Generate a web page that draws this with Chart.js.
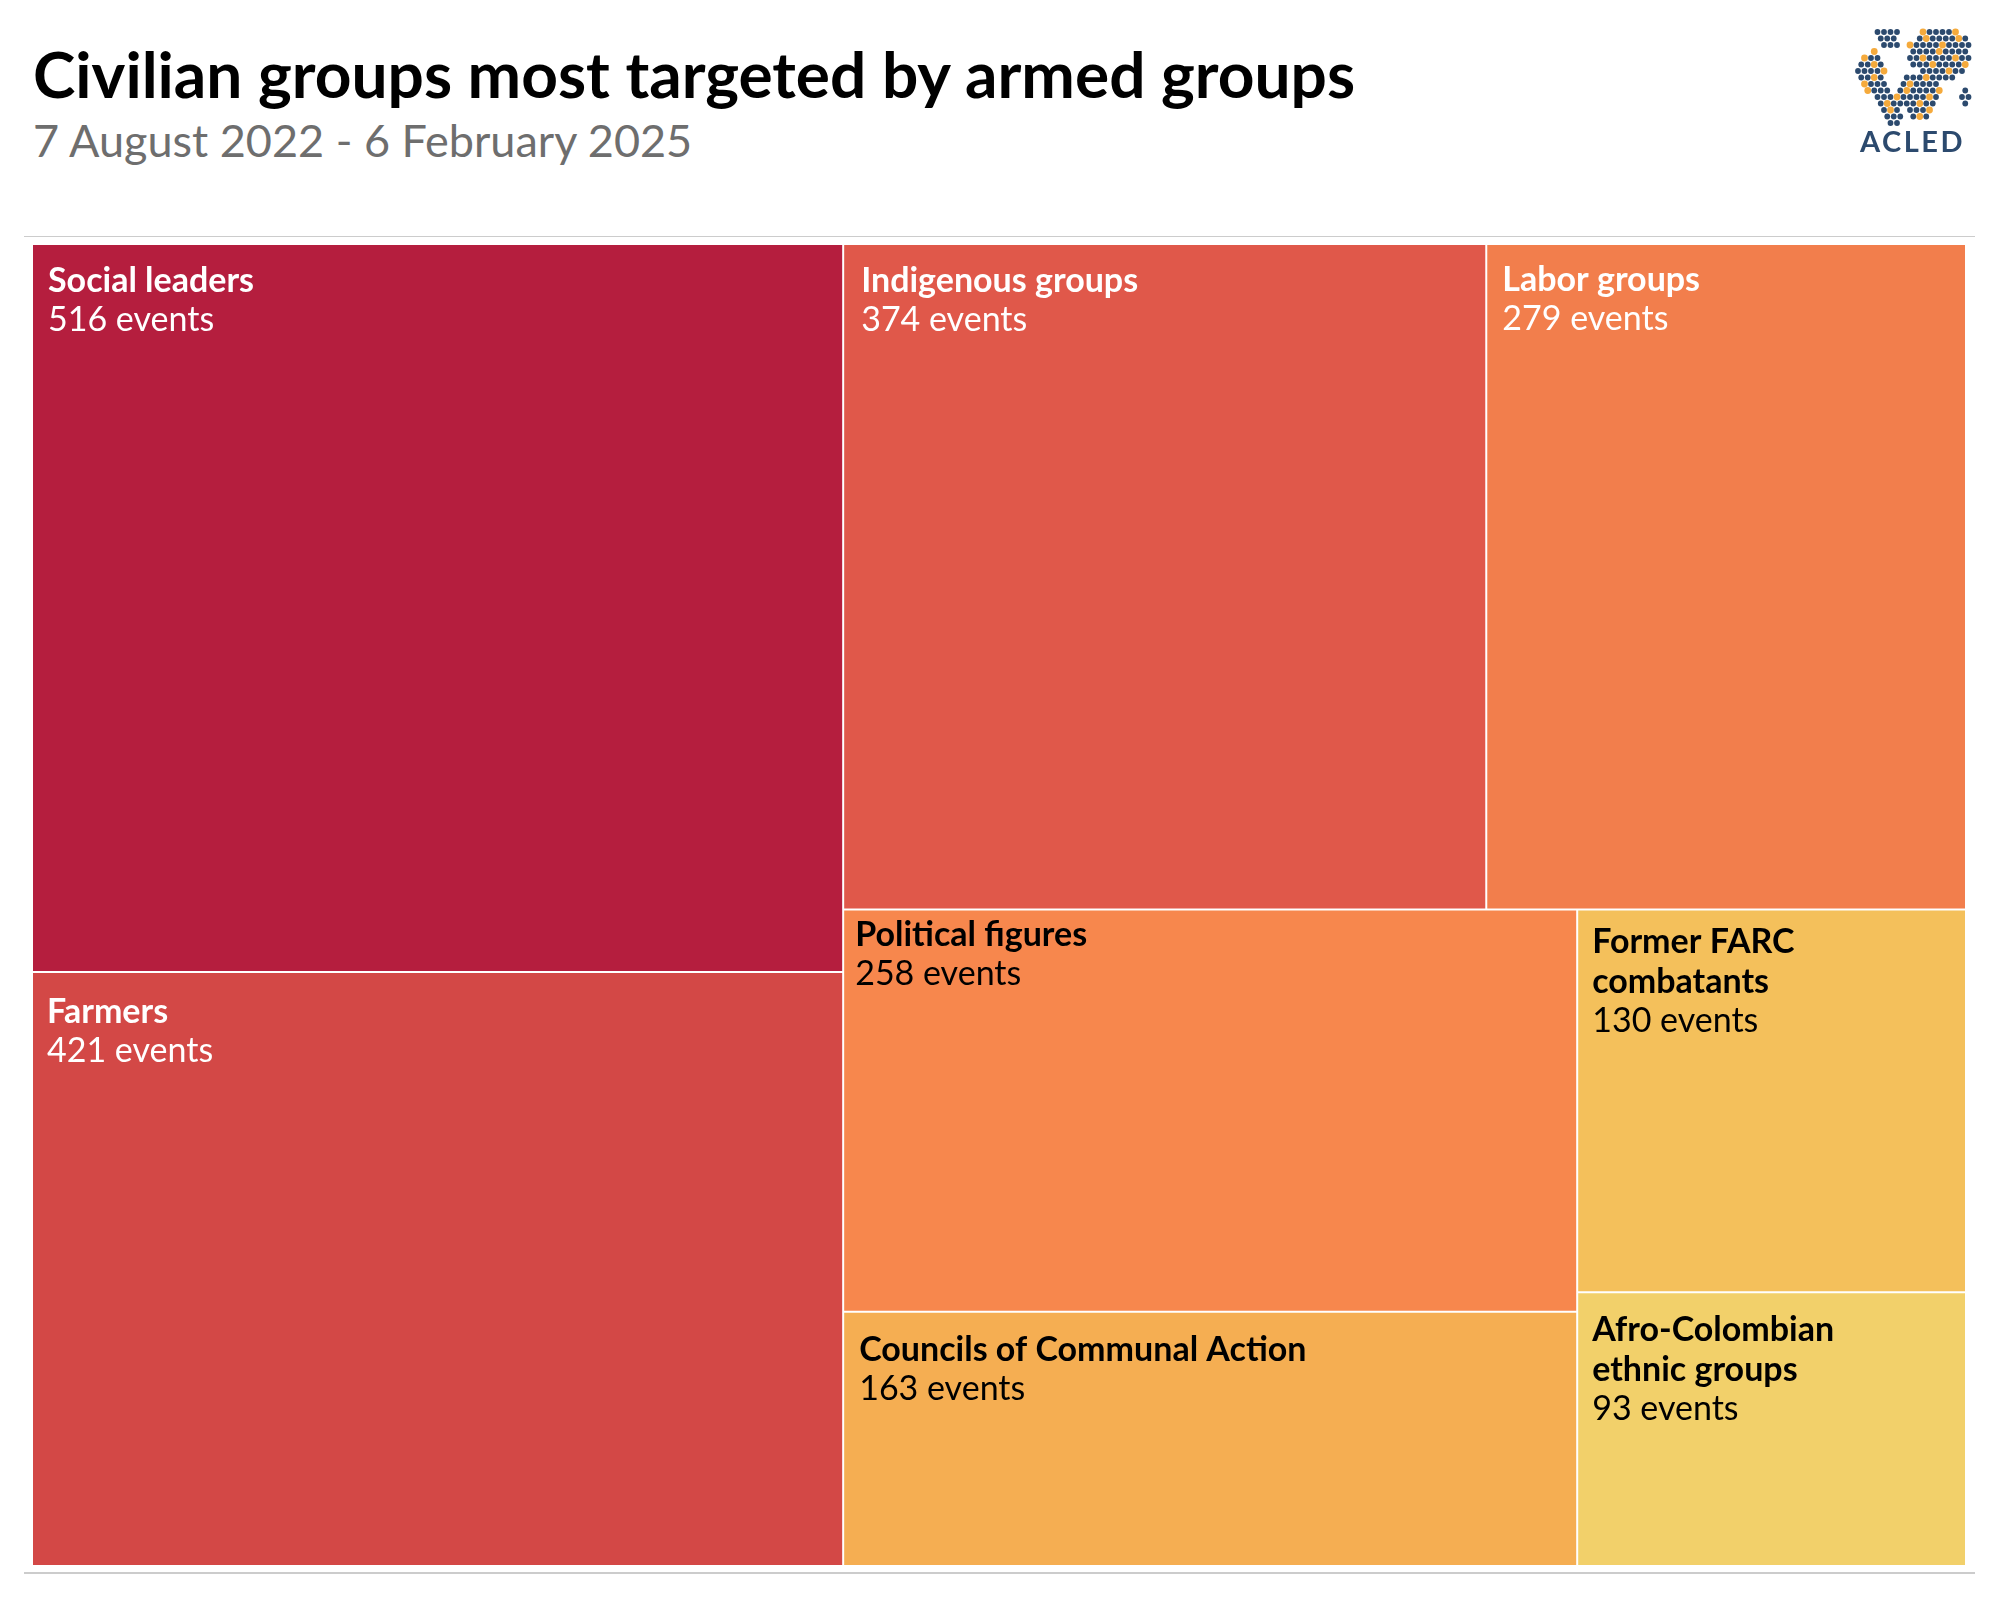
<!DOCTYPE html>
<html>
<head>
<meta charset="utf-8">
<script src="https://cdn.jsdelivr.net/npm/chart.js@4.4.1/dist/chart.umd.min.js"></script>
<style>
  html, body { margin: 0; padding: 0; background: #ffffff; width: 2000px; height: 1600px; overflow: hidden; }
  #title { position: absolute; left: 33px; top: 36px; font: 700 64px Lato, sans-serif; line-height: 1.2; color: #000000; white-space: nowrap; }
  #subtitle { position: absolute; left: 33px; top: 113px; font: 400 45px Lato, sans-serif; line-height: 1.2; color: #6e6e6e; white-space: nowrap; }
  .rule { position: absolute; left: 24px; width: 1951px; background: #cccccc; }
  #ruleTop { top: 236px; height: 1px; }
  #ruleBottom { top: 1572px; height: 2px; }
  #chartBox { position: absolute; left: 32px; top: 244px; width: 1934px; height: 1322px; }
  #logoDots { position: absolute; left: 1855px; top: 28px; }
  #logoText { position: absolute; left: 1860px; top: 124px; font: 700 29px Lato, sans-serif; line-height: 1.2; letter-spacing: 2.5px; color: #2c4a6e; white-space: nowrap; }
</style>
</head>
<body>
<div id="title">Civilian groups most targeted by armed groups</div>
<div id="subtitle">7 August 2022 - 6 February 2025</div>
<canvas id="logoDots" width="120" height="102"></canvas>
<div id="logoText">ACLED</div>
<div class="rule" id="ruleTop"></div>
<div id="chartBox"><canvas id="chart" width="1934" height="1322"></canvas></div>
<div class="rule" id="ruleBottom"></div>
<script>
// ---------------- data ----------------
const categories = [
  'Social leaders',
  'Farmers',
  'Indigenous groups',
  'Labor groups',
  'Political figures',
  'Councils of Communal Action',
  ['Former FARC', 'combatants'],
  ['Afro-Colombian', 'ethnic groups']
];
const events = [516, 421, 374, 279, 258, 163, 130, 93];
const valueSuffix = ' events';

// ---------------- styles ----------------
const cellColors = ['#b51e3e', '#d34846', '#e0584a', '#f27e4c', '#f7874d', '#f5ae52', '#f4c05b', '#f2d06a'];
const textColors = ['#ffffff', '#ffffff', '#ffffff', '#ffffff', '#000000', '#000000', '#000000', '#000000'];
// small label nudges (dx, dy in px) to mimic the reference placement
const labelNudge = [[0, 0], [-1, 3], [2, 0], [0, -1], [-4, -12], [0, 1], [-1, -5], [-1, 1]];

// squarified treemap layout (same algorithm as d3.treemapSquarify)
function squarify(values, x0, y0, x1, y1, ratio) {
  const n = values.length;
  const out = new Array(n);
  let value = values.reduce((a, b) => a + b, 0);
  let i0 = 0, i1 = 0;
  while (i0 < n) {
    const dx = x1 - x0, dy = y1 - y0;
    let sumValue = values[i1++];
    let minValue = sumValue, maxValue = sumValue;
    const alpha = Math.max(dy / dx, dx / dy) / (value * ratio);
    let beta = sumValue * sumValue * alpha;
    let minRatio = Math.max(maxValue / beta, beta / minValue);
    for (; i1 < n; ++i1) {
      const nv = values[i1];
      sumValue += nv;
      if (nv < minValue) minValue = nv;
      if (nv > maxValue) maxValue = nv;
      beta = sumValue * sumValue * alpha;
      const newRatio = Math.max(maxValue / beta, beta / minValue);
      if (newRatio > minRatio) { sumValue -= nv; break; }
      minRatio = newRatio;
    }
    if (dx < dy) {
      const ny = y0 + dy * sumValue / value;
      let x = x0;
      for (let k = i0; k < i1; k++) {
        const w = dx * values[k] / sumValue;
        out[k] = { x0: x, x1: x + w, y0: y0, y1: ny };
        x += w;
      }
      y0 = ny;
    } else {
      const nx = x0 + dx * sumValue / value;
      let y = y0;
      for (let k = i0; k < i1; k++) {
        const h = dy * values[k] / sumValue;
        out[k] = { x0: x0, x1: nx, y0: y, y1: y + h };
        y += h;
      }
      x0 = nx;
    }
    value -= sumValue;
    i0 = i1;
  }
  return out;
}

class TreemapController extends Chart.DatasetController {
  parse(start, count) {
    const meta = this._cachedMeta;
    const data = this.getDataset().data;
    for (let i = start; i < start + count; i++) {
      meta._parsed[i] = { x: 0, y: 0, v: +data[i] };
    }
  }
  getMinMax() { return { min: 0, max: 1 }; }
  update(mode) {
    const meta = this._cachedMeta;
    this.updateElements(meta.data, 0, meta.data.length, mode);
  }
  updateElements(rects, start, count, mode) {
    const meta = this._cachedMeta;
    const area = this.chart.chartArea || { left: 0, top: 0, right: 1, bottom: 1 };
    const W = Math.max(1, area.right - area.left), H = Math.max(1, area.bottom - area.top);
    const values = meta._parsed.map(p => p.v);
    const layout = squarify(values, 0, 0, W, H, (1 + Math.sqrt(5)) / 2);
    const xs = meta.xScale, ys = meta.yScale;
    for (let i = start; i < start + count; i++) {
      const c = layout[i];
      const left = xs.getPixelForValue(c.x0 / W);
      const right = xs.getPixelForValue(c.x1 / W);
      const top = ys.getPixelForValue(c.y0 / H);
      const bottom = ys.getPixelForValue(c.y1 / H);
      const props = {
        x: (left + right) / 2,
        y: top,
        base: bottom,
        width: right - left,
        height: bottom - top,
        horizontal: false,
        borderSkipped: { top: false, right: false, bottom: false, left: false },
        inflateAmount: 0,
        enableBorderRadius: false,
        options: this.resolveDataElementOptions(i, mode)
      };
      this.updateElement(rects[i], i, props, 'none');
    }
  }
}
TreemapController.id = 'treemap';
TreemapController.defaults = { datasetElementType: false, dataElementType: 'bar' };
TreemapController.overrides = {
  scales: {
    x: { type: 'linear', display: false, min: 0, max: 1 },
    y: { type: 'linear', display: false, min: 0, max: 1, reverse: true }
  }
};
Chart.register(TreemapController);

const cellLabels = {
  id: 'cellLabels',
  afterDatasetsDraw(chart) {
    const ctx = chart.ctx;
    const meta = chart.getDatasetMeta(0);
    const ds = chart.data.datasets[0];
    meta.data.forEach((el, i) => {
      const { x, y, width } = el.getProps(['x', 'y', 'width'], true);
      const left = x - width / 2;
      const name = chart.data.labels[i];
      const lines = Array.isArray(name) ? name : [name];
      const [ndx, ndy] = labelNudge[i];
      ctx.save();
      ctx.fillStyle = textColors[i];
      ctx.textAlign = 'left';
      ctx.textBaseline = 'alphabetic';
      const tx = left + 16 + ndx;
      let by = y + 48 + ndy;
      ctx.font = 'bold 34px Lato';
      lines.forEach(l => { ctx.fillText(l, tx, by); by += 40; });
      ctx.font = '34px Lato';
      ctx.fillText(ds.data[i] + valueSuffix, tx, by - 1);
      ctx.restore();
    });
  }
};

new Chart(document.getElementById('chart'), {
  type: 'treemap',
  data: {
    labels: categories,
    datasets: [{
      data: events,
      backgroundColor: cellColors,
      borderColor: '#ffffff',
      borderWidth: 1
    }]
  },
  options: {
    responsive: false,
    animation: false,
    devicePixelRatio: 1,
    events: [],
    layout: { padding: 0 },
    scales: {
      x: { type: 'linear', display: false, min: 0, max: 1 },
      y: { type: 'linear', display: false, min: 0, max: 1, reverse: true }
    },
    plugins: { legend: { display: false }, tooltip: { enabled: false } }
  },
  plugins: [cellLabels]
});

// ---------------- ACLED logo (decorative dotted globe) ----------------
(function drawLogo() {
  const c = document.getElementById('logoDots');
  const g = c.getContext('2d');
  const shapes = [
    [[22,4],[42,2],[43,18],[31,22],[21,14]],
    [[4,30],[20,23],[30,36],[28,52],[38,64],[48,76],[48,92],[38,100],[28,88],[18,72],[8,56],[2,42]],
    [[52,18],[66,4],[92,1],[112,6],[116,28],[108,46],[94,52],[80,49],[62,42],[52,30]],
    [[44,56],[58,43],[80,46],[88,60],[82,76],[72,90],[60,92],[53,78],[43,66]],
    [[108,58],[116,58],[114,76],[106,76]]
  ];
  function inside(px, py, poly) {
    let ins = false;
    for (let i = 0, j = poly.length - 1; i < poly.length; j = i++) {
      const [xi, yi] = poly[i], [xj, yj] = poly[j];
      if (((yi > py) !== (yj > py)) && (px < (xj - xi) * (py - yi) / (yj - yi) + xi)) ins = !ins;
    }
    return ins;
  }
  let k = 0;
  for (let gy = 4; gy < 100; gy += 6.5) {
    const row = Math.round((gy - 4) / 6.5);
    for (let gx = 3; gx < 118; gx += 6.5) {
      const px = gx + (row % 2) * 3.25, py = gy;
      if (shapes.some(s => inside(px, py, s))) {
        k++;
        const orange = (k * 7) % 5 === 0;
        g.beginPath();
        g.arc(px, py, orange ? 3.4 : 2.9, 0, Math.PI * 2);
        g.fillStyle = orange ? '#f5aa3c' : '#2c4a6e';
        g.fill();
      }
    }
  }
})();
</script>
</body>
</html>
